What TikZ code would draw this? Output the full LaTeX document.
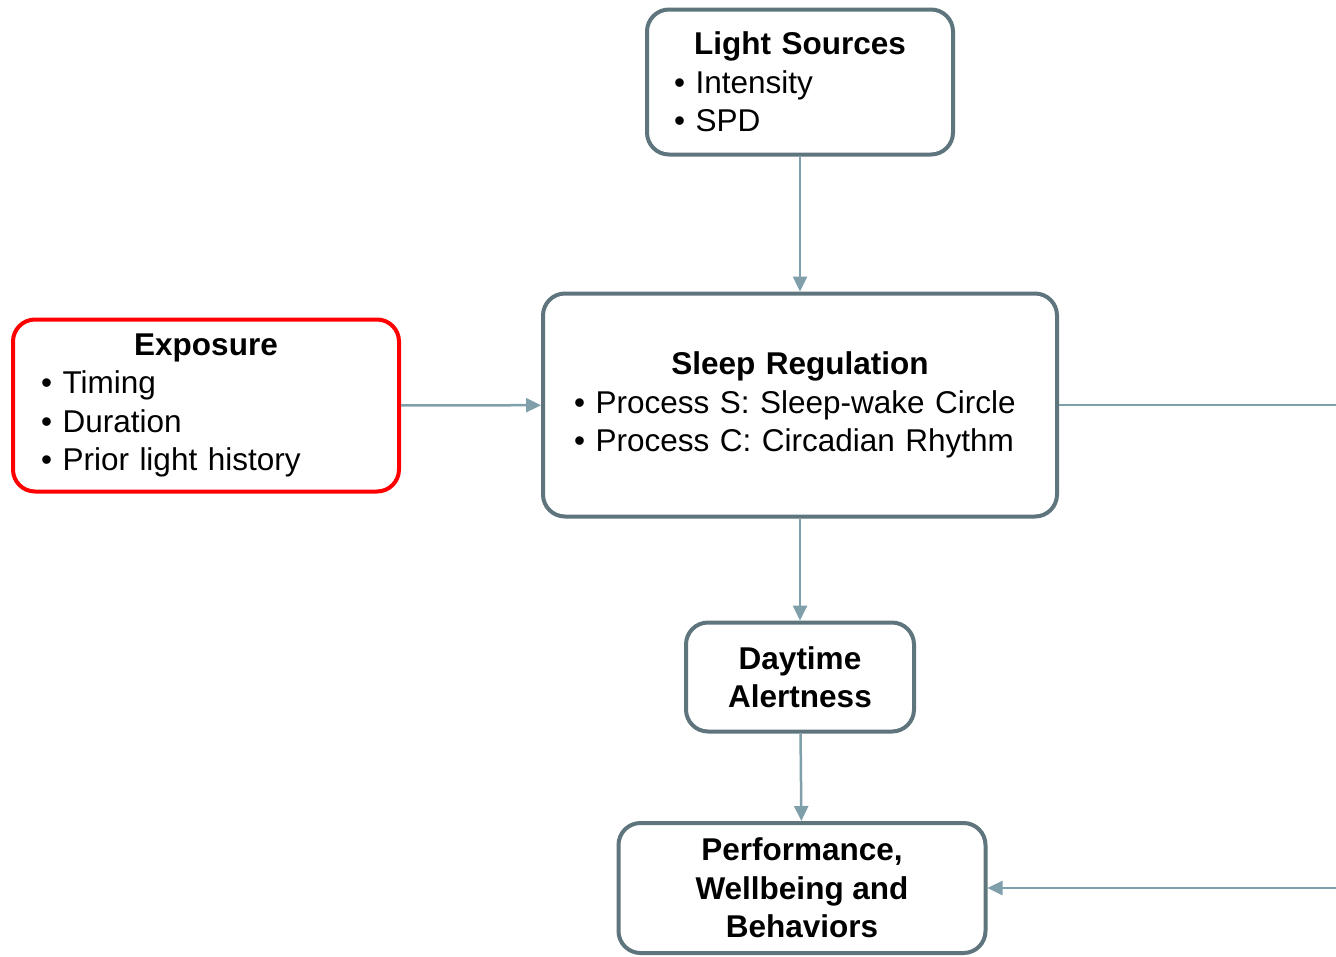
\documentclass[tikz,border=0pt]{standalone}
\usepackage{fontspec}
\setmainfont{Liberation Sans}
\usetikzlibrary{arrows.meta}
\definecolor{boxgray}{RGB}{94,117,125}
\definecolor{linkblue}{RGB}{127,160,170}

\begin{document}
\begin{tikzpicture}[
  x=1pt, y=-1pt,
  every node/.style={font=\fontsize{31.5}{38.5}\selectfont},
  factor/.style={draw=boxgray, line width=4pt, rounded corners=22pt,
                 align=left, inner ysep=0pt},
  outcome/.style={factor, align=center, font=\fontsize{31.5}{38.5}\selectfont\bfseries},
  link/.style={draw=linkblue, line width=2.5pt, -{Triangle[length=15pt, width=14pt]}},
  plainlink/.style={draw=linkblue, line width=2.5pt}
]
  \useasboundingbox (0,0) rectangle (1336,956);

  \node[factor, text width=252pt, inner xsep=27pt, minimum height=145pt] (light) at (800,82)
    {\makebox[\linewidth]{\textbf{Light Sources}}\\ • Intensity\\ • SPD};
  \node[factor, text width=452pt, inner xsep=31pt, minimum height=223pt] (sleep) at (800,405)
    {\makebox[\linewidth]{\textbf{Sleep Regulation}}\\ • Process S: Sleep-wake Circle\\ • Process C: Circadian Rhythm};
  \node[factor, draw=red, text width=330pt, inner xsep=28pt, minimum height=172pt] (expo) at (206,405.5)
    {\makebox[\linewidth]{\textbf{Exposure}}\\ • Timing\\ • Duration\\ • Prior light history};
  \node[outcome, minimum width=228pt, minimum height=109pt] (alert) at (800,677)
    {Daytime\\ Alertness};
  \node[outcome, minimum width=367pt, minimum height=130pt] (perf) at (802,888)
    {Performance,\\ Wellbeing and\\ Behaviors};

  \coordinate (edgeA) at (1336,405);
  \coordinate (edgeB) at (1336,888);

  \draw[link] (light) -- (sleep);
  \draw[link] (expo) -- (sleep);
  \draw[link] (sleep) -- (alert);
  \draw[link] (alert) -- (perf);
  \draw[plainlink] (sleep) -- (edgeA);
  \draw[link] (edgeB) -- (perf);
\end{tikzpicture}
\end{document}
